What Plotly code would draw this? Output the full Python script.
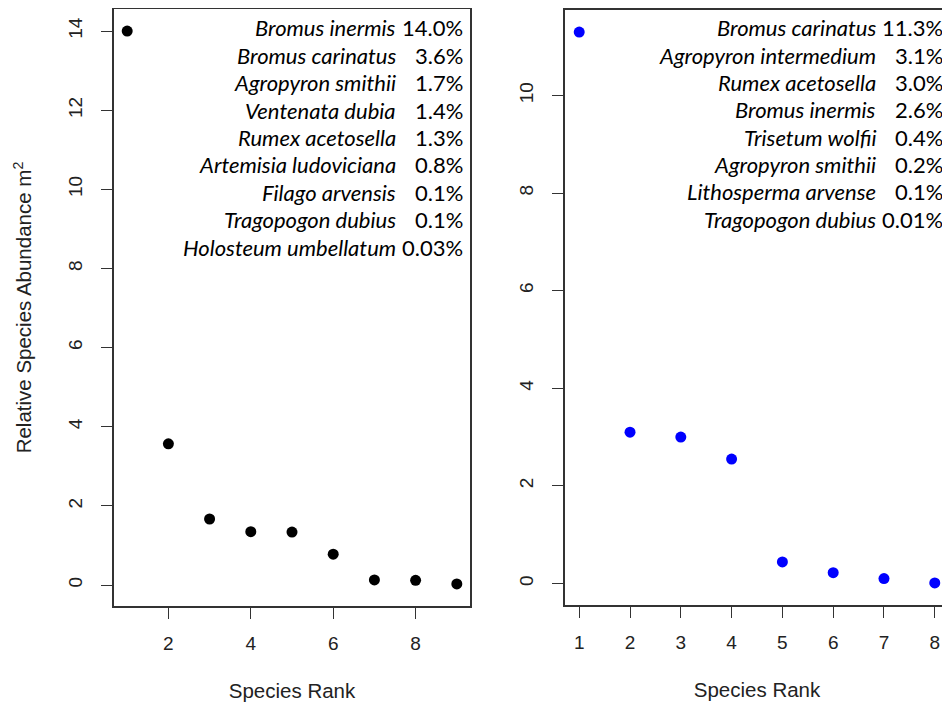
import plotly.graph_objects as go

# ---- data ----
left_rank = [1, 2, 3, 4, 5, 6, 7, 8, 9]
left_abund = [14.0, 3.57, 1.67, 1.35, 1.34, 0.78, 0.13, 0.12, 0.03]
left_species = ["Bromus inermis", "Bromus carinatus", "Agropyron smithii", "Ventenata dubia",
                "Rumex acetosella", "Artemisia ludoviciana", "Filago arvensis",
                "Tragopogon dubius", "Holosteum umbellatum"]
left_pct = ["14.0%", "3.6%", "1.7%", "1.4%", "1.3%", "0.8%", "0.1%", "0.1%", "0.03%"]

right_rank = [1, 2, 3, 4, 5, 6, 7, 8]
right_abund = [11.3, 3.10, 3.0, 2.55, 0.44, 0.22, 0.10, 0.01]
right_species = ["Bromus carinatus", "Agropyron intermedium", "Rumex acetosella", "Bromus inermis",
                 "Trisetum wolfii", "Agropyron smithii", "Lithosperma arvense", "Tragopogon dubius"]
right_pct = ["11.3%", "3.1%", "3.0%", "2.6%", "0.4%", "0.2%", "0.1%", "0.01%"]

# page body has an 8px margin; figure placed at (8, 8) in the 950x702 window
OFF = 8
W, H = 950 - OFF, 702 - OFF


def px_x(px):
    return (px - OFF) / W


def px_y(py):
    return 1 - (py - OFF) / H


def rrange(vals):
    lo, hi = min(vals), max(vals)
    pad = 0.04 * (hi - lo)
    return [lo - pad, hi + pad]


fig = go.Figure()
fig.add_trace(go.Scatter(x=left_rank, y=left_abund, mode="markers",
                         marker=dict(color="black", size=11), xaxis="x", yaxis="y",
                         showlegend=False))
fig.add_trace(go.Scatter(x=right_rank, y=right_abund, mode="markers",
                         marker=dict(color="#0000FF", size=11), xaxis="x2", yaxis="y2",
                         showlegend=False))

LC = "#333333"
tickfont = dict(family="Liberation Sans, Arial, sans-serif", size=19, color="#222")
titlefont = dict(family="Liberation Sans, Arial, sans-serif", size=20.5, color="#222")

common = dict(showline=True, mirror=True, linecolor=LC, linewidth=1.5, ticks="outside",
              ticklen=11, tickwidth=1.3, tickcolor=LC, showgrid=False, zeroline=False,
              tickfont=tickfont, automargin=False)

fig.update_layout(
    width=W, height=H, margin=dict(l=0, r=0, t=0, b=0),
    paper_bgcolor="white", plot_bgcolor="white",
    xaxis=dict(domain=[px_x(114), px_x(470)], range=rrange(left_rank), tickmode="linear",
               tick0=2, dtick=2, ticklabelstandoff=8,
               title=dict(text="Species Rank", font=titlefont, standoff=31), anchor="y", **common),
    yaxis=dict(domain=[px_y(606), px_y(9)], range=rrange(left_abund), tickmode="linear",
               tick0=0, dtick=2, tickangle=-90, ticklabelstandoff=12,
               title=dict(text="Relative Species Abundance m<sup>2</sup>", font=titlefont,
                          standoff=27), anchor="x", **common),
    xaxis2=dict(domain=[px_x(565), px_x(949)], range=rrange(right_rank), tickmode="linear",
                tick0=1, dtick=1, ticklabelstandoff=8,
                title=dict(text="Species Rank", font=titlefont, standoff=31), anchor="y2", **common),
    yaxis2=dict(domain=[px_y(605), px_y(10)], range=rrange(right_abund), tickmode="linear",
                tick0=0, dtick=2, tickangle=-90, ticklabelstandoff=12, anchor="x2", **common),
)

annfont = dict(family="Lato, Open Sans, sans-serif", size=22, color="#000")
anns = []


def add_block(species, pcts, name_right, pct_right, top, step):
    for i, (s, p) in enumerate(zip(species, pcts)):
        yy = px_y(top + i * step)
        anns.append(dict(x=px_x(name_right), y=yy, xref="paper", yref="paper",
                         text="<i>%s</i>" % s, showarrow=False, xanchor="right",
                         yanchor="middle", font=annfont))
        anns.append(dict(x=px_x(pct_right), y=yy, xref="paper", yref="paper", text=p,
                         showarrow=False, xanchor="right", yanchor="middle", font=annfont))


add_block(left_species, left_pct, 398, 465, 28, 27.4)
add_block(right_species, right_pct, 878, 945, 28, 27.3)
fig.update_layout(annotations=anns)

fig.write_html("out.html")
